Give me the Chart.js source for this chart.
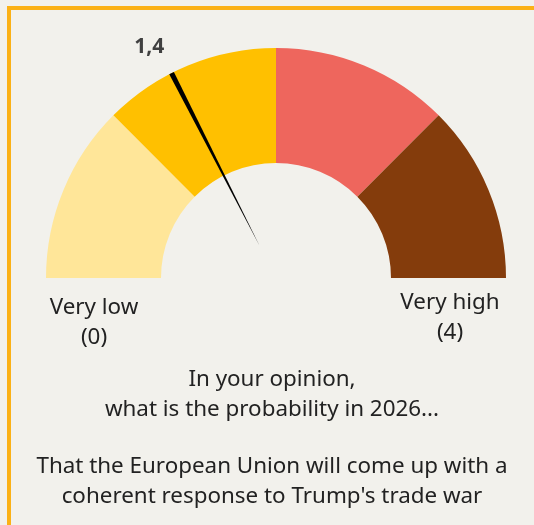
<!DOCTYPE html>
<html>
<head>
<meta charset="utf-8">
<script src="https://cdn.jsdelivr.net/npm/chart.js@4.4.1/dist/chart.umd.min.js"></script>
<style>
    html, body {
        margin: 0;
        padding: 0;
        width: 534px;
        height: 525px;
        overflow: hidden;
        background: #f2f1ec;
        font-family: "Noto Sans", sans-serif;
        color: #222;
    }
    .frame {
        position: absolute;
        left: 7px;
        top: 6px;
        width: 600px;
        height: 600px;
        border-left: 4px solid #fbb116;
        border-top: 4px solid #fbb116;
    }
    #wrap {
        position: absolute;
        left: 0;
        top: 0;
        width: 534px;
        height: 525px;
    }
    .lbl {
        position: absolute;
        font-size: 22.4px;
        line-height: 30px;
        text-align: center;
        white-space: nowrap;
    }
</style>
</head>
<body>
<div class="frame"></div>
<div id="wrap"><canvas id="gauge"></canvas></div>

<div class="lbl" style="left:34px; top:291px; width:120px;">Very low<br>(0)</div>
<div class="lbl" style="left:390px; top:286px; width:120px;">Very high<br>(4)</div>

<div class="lbl" style="left:22px; top:363px; width:500px;">In your opinion,<br>what is the probability in 2026...</div>
<div class="lbl" style="left:22px; top:450px; width:500px;">That the European Union will come up with a<br>coherent response to Trump's trade war</div>

<script>
// 🔹 DATA
const segmentLabels = ["0-1", "1-2", "2-3", "3-4"];
const segmentValues = [1, 1, 1, 1];
const segmentColors = ["#ffe699", "#ffc000", "#ee665d", "#843c0c"];
const needleValue = 1.4;

// 🔥 NEEDLE + VALUE LABEL
const needlePlugin = {
    id: "needle",
    afterDatasetsDraw(chart) {
        const arcs = chart.getDatasetMeta(0).data;
        const first = arcs[0].getProps(["x", "y", "startAngle", "outerRadius"], true);
        const last = arcs[arcs.length - 1].getProps(["endAngle"], true);
        const total = segmentValues.reduce((a, b) => a + b, 0);

        const angle = first.startAngle + (needleValue / total) * (last.endAngle - first.startAngle);
        const cx = first.x;
        const cy = first.y;
        const R = first.outerRadius;
        const cos = Math.cos(angle);
        const sin = Math.sin(angle);
        const half = 2.6;
        const tipR = 36;

        const ctx = chart.ctx;
        ctx.save();
        ctx.fillStyle = "#000";
        ctx.beginPath();
        ctx.moveTo(cx + cos * R - sin * half, cy + sin * R + cos * half);
        ctx.lineTo(cx + cos * R + sin * half, cy + sin * R - cos * half);
        ctx.lineTo(cx + cos * tipR, cy + sin * tipR);
        ctx.closePath();
        ctx.fill();

        // value label
        const labelR = R + 34;
        ctx.fillStyle = "#404040";
        ctx.font = "bold 21px 'Noto Sans'";
        ctx.textAlign = "center";
        ctx.textBaseline = "middle";
        ctx.fillText(needleValue.toFixed(1).replace(".", ","), cx + cos * labelR - 7, cy + sin * labelR + 4);
        ctx.restore();
    }
};

// 🔁 RUN
new Chart(document.getElementById("gauge"), {
    type: "doughnut",
    data: {
        labels: segmentLabels,
        datasets: [{
            data: segmentValues,
            backgroundColor: segmentColors,
            borderWidth: 0
        }]
    },
    options: {
        responsive: true,
        maintainAspectRatio: false,
        animation: false,
        events: [],
        rotation: -90,
        circumference: 180,
        cutout: "50%",
        layout: {
            padding: { left: 46, right: 28, top: 48, bottom: 247 }
        },
        plugins: {
            legend: { display: false },
            tooltip: { enabled: false }
        }
    },
    plugins: [needlePlugin]
});
</script>
</body>
</html>
